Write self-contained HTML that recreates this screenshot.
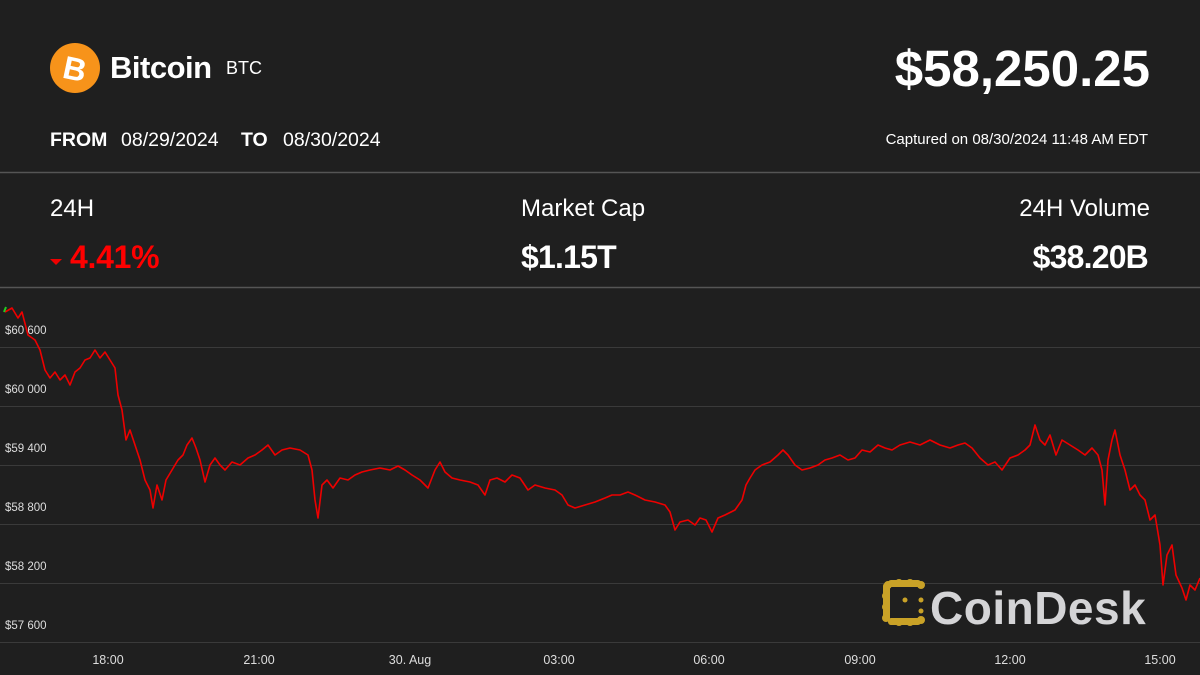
<!DOCTYPE html>
<html><head><meta charset="utf-8"><style>
body{margin:0;width:1200px;height:675px;background:#1f1f1f;overflow:hidden;font-family:"Liberation Sans",Arial,sans-serif;color:#fff;position:relative}
.a{position:absolute;white-space:nowrap}
</style></head><body>
<svg class="a" style="left:0;top:0" width="1200" height="675">
<circle cx="75" cy="68" r="25" fill="#f7931a"/>
<text x="75" y="80" font-family="Liberation Sans" font-weight="bold" font-size="32" fill="#fff" text-anchor="middle" transform="rotate(12 75 68)">B</text>
<line x1="0" y1="172.5" x2="1200" y2="172.5" stroke="#555" stroke-width="1.5"/>
<line x1="0" y1="287.5" x2="1200" y2="287.5" stroke="#555" stroke-width="1.5"/>
<g stroke="#3a3a3a" stroke-width="1">
<line x1="0" y1="347.5" x2="1200" y2="347.5"/><line x1="0" y1="406.5" x2="1200" y2="406.5"/>
<line x1="0" y1="465.5" x2="1200" y2="465.5"/><line x1="0" y1="524.5" x2="1200" y2="524.5"/>
<line x1="0" y1="583.5" x2="1200" y2="583.5"/><line x1="0" y1="642.5" x2="1200" y2="642.5"/>
</g>
<g font-family="Liberation Sans" font-size="11.5" fill="#ddd">
<text x="5" y="334">$60 600</text><text x="5" y="393">$60 000</text><text x="5" y="452">$59 400</text>
<text x="5" y="511">$58 800</text><text x="5" y="570">$58 200</text><text x="5" y="629">$57 600</text>
</g>
<g font-family="Liberation Sans" font-size="12.5" fill="#ddd" text-anchor="middle">
<text x="108" y="664">18:00</text><text x="259" y="664">21:00</text><text x="410" y="664">30. Aug</text>
<text x="559" y="664">03:00</text><text x="709" y="664">06:00</text><text x="860" y="664">09:00</text>
<text x="1010" y="664">12:00</text><text x="1160" y="664">15:00</text>
</g>
<g fill="#c9a227">
<circle cx="888" cy="585" r="4"/><circle cx="899" cy="583" r="4"/><circle cx="910" cy="583" r="4"/><circle cx="921" cy="585" r="4"/>
<circle cx="886" cy="596" r="4"/><circle cx="886" cy="607" r="4"/><circle cx="886" cy="618" r="4"/>
<circle cx="899" cy="622" r="4"/><circle cx="910" cy="622" r="4"/><circle cx="921" cy="620" r="4"/>
<circle cx="905" cy="600" r="2.5"/><circle cx="921" cy="600" r="2.5"/><circle cx="921" cy="611" r="2.5"/>
<rect x="883" y="583" width="7" height="38" rx="3"/><rect x="888" y="580" width="33" height="7" rx="3"/><rect x="888" y="618" width="33" height="7" rx="3"/>
</g>
<text x="930" y="624" font-family="Liberation Sans" font-weight="bold" font-size="46" fill="#d4d4d6" letter-spacing="0.5">CoinDesk</text>
<polyline fill="none" stroke="#e00" stroke-width="1.6" stroke-linejoin="round" points="5,312 12,308 18,318 22,312 28,335 35,340 40,350 45,370 50,378 55,372 60,380 65,375 70,385 75,372 80,368 85,360 90,358 95,350 100,358 105,352 110,360 115,368 118,395 122,410 126,440 130,430 135,445 140,460 145,480 150,490 153,508 157,485 162,500 166,480 172,470 178,460 183,455 187,445 192,438 196,448 200,460 205,482 210,465 215,458 220,465 225,470 232,462 240,465 248,458 255,455 262,450 268,445 275,455 282,450 290,448 300,450 308,455 312,470 315,500 318,518 322,485 327,480 333,488 340,478 348,480 355,475 362,472 370,470 380,468 390,470 398,466 405,470 412,475 420,480 428,488 435,470 440,462 445,472 452,478 460,480 470,482 478,485 485,495 490,480 497,478 505,482 512,475 520,478 528,490 535,485 545,488 555,490 562,495 568,505 575,508 585,505 595,502 605,498 612,495 620,495 628,492 635,495 645,500 655,502 665,505 670,512 675,530 680,522 688,520 695,525 700,518 706,520 712,532 718,518 725,515 735,510 742,500 746,485 750,478 755,470 762,465 770,462 778,455 783,450 788,455 795,465 802,470 810,468 818,465 825,460 832,458 840,455 848,460 855,458 862,450 870,452 878,445 885,448 892,450 900,445 910,442 920,445 930,440 940,445 950,448 958,445 965,443 972,448 980,458 988,465 995,462 1002,470 1010,458 1018,455 1025,450 1030,445 1035,425 1040,440 1045,445 1050,435 1056,455 1062,440 1070,445 1078,450 1085,455 1092,448 1098,455 1102,470 1105,505 1108,460 1112,440 1115,430 1120,455 1125,470 1130,490 1135,485 1140,495 1145,500 1150,520 1155,515 1160,545 1163,585 1167,555 1172,545 1176,575 1182,588 1186,600 1190,585 1195,590 1200,578"/>
<line x1="4" y1="312" x2="6" y2="307" stroke="#2c2" stroke-width="2"/>
<path d="M50 259 h12 l-6 6z" fill="#e00"/>
</svg>
<div class="a" style="left:110px;top:50px;font-size:31px;font-weight:bold;letter-spacing:-0.5px">Bitcoin</div>
<div class="a" style="left:226px;top:58px;font-size:18px">BTC</div>
<div class="a" style="right:50px;top:39px;font-size:51px;font-weight:bold;letter-spacing:0">$58,250.25</div>
<div class="a" style="left:50px;top:129px;font-size:19.5px"><b>FROM</b><span style="position:absolute;left:71px">08/29/2024</span><b style="position:absolute;left:191px">TO</b><span style="position:absolute;left:233px">08/30/2024</span></div>
<div class="a" style="right:52px;top:131px;font-size:15px">Captured on 08/30/2024 11:48 AM EDT</div>
<div class="a" style="left:50px;top:195px;font-size:24px">24H</div>
<div class="a" style="left:70px;top:239px;font-size:32px;font-weight:bold;color:#f00;letter-spacing:-0.3px">4.41%</div>
<div class="a" style="left:521px;top:195px;font-size:24px">Market Cap</div>
<div class="a" style="left:521px;top:239px;font-size:32px;font-weight:bold;letter-spacing:-0.8px">$1.15T</div>
<div class="a" style="right:50px;top:195px;font-size:24px">24H Volume</div>
<div class="a" style="right:52px;top:239px;font-size:32px;font-weight:bold;letter-spacing:-0.8px">$38.20B</div>
</body></html>
